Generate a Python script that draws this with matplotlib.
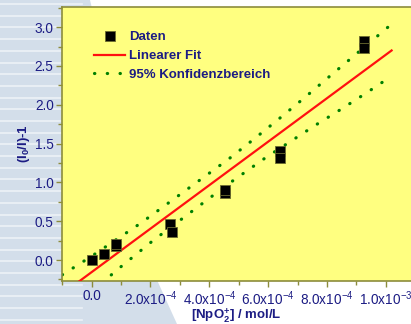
import matplotlib
matplotlib.use("Agg")
import matplotlib.pyplot as plt
from matplotlib.patches import Polygon
from matplotlib.lines import Line2D
from matplotlib.ticker import MultipleLocator, FixedLocator

plt.rcParams['font.family'] = ['Liberation Sans', 'DejaVu Sans']
plt.rcParams['mathtext.fontset'] = 'custom'
plt.rcParams['mathtext.rm'] = 'Liberation Sans'
plt.rcParams['mathtext.bf'] = 'Liberation Sans:bold'

# measured points
conc = [0.0, 0.43e-4, 0.83e-4, 0.83e-4, 2.67e-4, 2.72e-4, 4.52e-4, 4.52e-4,
        6.41e-4, 6.41e-4, 9.26e-4, 9.26e-4]
ratio = [0.0, 0.08, 0.18, 0.21, 0.46, 0.36, 0.86, 0.90,
         1.41, 1.32, 2.82, 2.73]

# linear fit (end points)
fit_x = [-1.0e-4, 1.02e-3]
fit_y = [-0.435, 2.70]

# 95% confidence band
upper_x = [-1.0e-4, 0.0, 1.67e-4, 4.64e-4, 5.49e-4, 6.34e-4, 7.19e-4, 8.04e-4, 8.92e-4, 1.02e-3]
upper_y = [-0.19, 0.05, 0.476, 1.296, 1.55, 1.81, 2.076, 2.35, 2.63, 3.04]
lower_x = [-1.0e-4, 0.43e-4, 0.82e-4, 2.08e-4, 4.64e-4, 5.92e-4, 6.77e-4, 7.62e-4, 8.47e-4, 9.33e-4, 1.02e-3]
lower_y = [-0.72, -0.27, -0.14, 0.249, 0.978, 1.32, 1.53, 1.74, 1.94, 2.15, 2.37]

xticks = [0.0, 2e-4, 4e-4, 6e-4, 8e-4, 1e-3]
xlabels = ['0.0', r'2.0x10$^{-4}$', r'4.0x10$^{-4}$', r'6.0x10$^{-4}$',
           r'8.0x10$^{-4}$', r'1.0x10$^{-3}$']

navy = '#1c1c84'
olive = '#8c8c3c'

fig = plt.figure(figsize=(4.11, 3.24), dpi=100, facecolor='white')

# slide background
fig.patches.append(Polygon([(0, 0), (177/411, 0), (157/411, 44/324), (90/411, 1), (0, 1)],
                           closed=True, transform=fig.transFigure,
                           facecolor='#d3deea', edgecolor='none', zorder=-2))
y = 4
while y < 324:
    fig.add_artist(Line2D([0, 82/411], [1 - y/324, 1 - y/324], transform=fig.transFigure,
                          color='#edf2f7', lw=1.2, zorder=-1))
    y += 11.7

ax = fig.add_axes([62/411, 1 - 281/324, 1 - 62/411, 274/324])
ax.set_facecolor('#ffff80')

ax.plot(upper_x, upper_y, color='#008000', lw=2.3, linestyle=(0, (0.1, 3.9)),
        dash_capstyle='round', label='95% Konfidenzbereich', zorder=2)
ax.plot(lower_x, lower_y, color='#008000', lw=2.3, linestyle=(0, (0.1, 3.9)),
        dash_capstyle='round', zorder=2)
ax.plot(fit_x, fit_y, color='#ff1010', lw=1.6, label='Linearer Fit', zorder=3)
ax.plot(conc, ratio, 's', color='black', ms=6.8, mec='#6b6b30', mew=0.6,
        label='Daten', zorder=4)

ax.set_xlim(-1.01e-4, 1.086e-3)
ax.set_ylim(-0.27, 3.26)

ax.xaxis.set_major_locator(FixedLocator(xticks))
ax.set_xticklabels(xlabels)
ax.xaxis.set_minor_locator(MultipleLocator(1e-4))
ax.yaxis.set_major_locator(MultipleLocator(0.5))
ax.yaxis.set_minor_locator(MultipleLocator(0.25))
ax.yaxis.set_major_formatter(matplotlib.ticker.FormatStrFormatter('%.1f'))

ax.tick_params(which='both', direction='out', color=olive, labelcolor=navy, labelsize=9.8)
ax.tick_params(which='major', length=4, width=1)
ax.tick_params(which='minor', length=3, width=1)
ax.tick_params(axis='x', pad=2)
ax.tick_params(axis='y', pad=2)

for side in ['left', 'bottom', 'top']:
    ax.spines[side].set_color(olive)
    ax.spines[side].set_linewidth(1.2)
ax.spines['right'].set_visible(False)

ax.set_xlabel(r'[NpO$_\mathbf{2}^\mathbf{+}$] / mol/L', color=navy, fontsize=9.5,
              fontweight='bold', labelpad=-1.5)
ax.set_ylabel(r'(I$_\mathbf{0}$/I)-1', color=navy, fontsize=9.5, fontweight='bold',
              labelpad=2)

handles, labels = ax.get_legend_handles_labels()
leg = ax.legend(handles[::-1], labels[::-1], loc='upper left', bbox_to_anchor=(0.057, 0.955),
                frameon=False, handlelength=2.4, handletextpad=0.3, labelspacing=0.5,
                borderaxespad=0.5, prop={'weight': 'bold', 'size': 9.5})
for t in leg.get_texts():
    t.set_color(navy)

fig.savefig('out.png', dpi=100, facecolor=fig.get_facecolor())
